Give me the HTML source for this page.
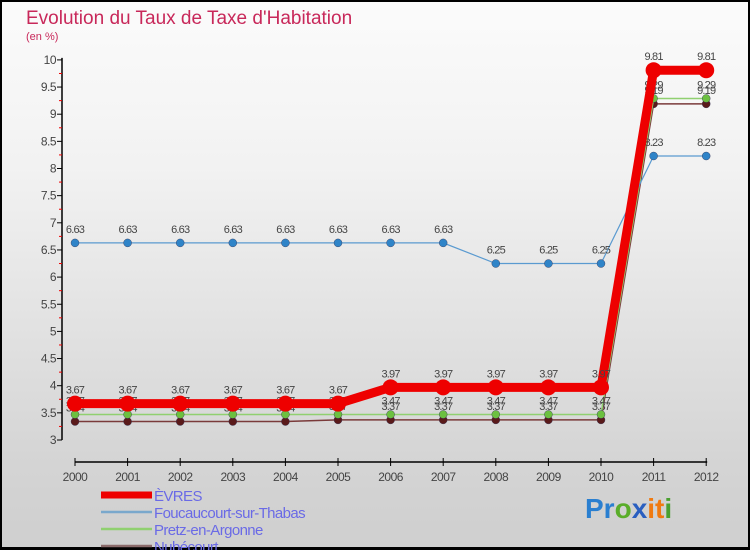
<!DOCTYPE html>
<html><head><meta charset="utf-8"><style>
html,body{margin:0;padding:0}
body{width:750px;height:550px;overflow:hidden;font-family:"Liberation Sans","DejaVu Sans",sans-serif}
#frame{position:absolute;left:0;top:0;width:746px;height:546px;border:2px solid #000;border-bottom-width:3px;height:545px;background:linear-gradient(#fbfbfb,#f2f2f2 30%,#d4d4d4 85%,#cfcfcf)}
</style></head><body>
<div id="frame">
<svg id="chart" width="750" height="550" style="position:absolute;left:-2px;top:-2px">
<text x="26" y="24" font-size="19" fill="#c8285a">Evolution du Taux de Taxe d'Habitation</text>
<text x="26" y="40" font-size="11" fill="#c8285a">(en %)</text>
<g id="axes"></g><g id="series"></g><g id="legend"></g>
<text x="585" y="518" font-size="28" font-weight="bold"><tspan fill="#2a7fd0">Pr</tspan><tspan fill="#5aad2a">o</tspan><tspan fill="#2a5fc0">x</tspan><tspan fill="#f07a10">it</tspan><tspan fill="#4aa030">i</tspan></text>
</svg>
</div>
<script>
const years=["2000","2001","2002","2003","2004","2005","2006","2007","2008","2009","2010","2011","2012"];
const yTicks=[3,3.5,4,4.5,5,5.5,6,6.5,7,7.5,8,8.5,9,9.5,10];
const seriesNames=["ÈVRES","Foucaucourt-sur-Thabas","Pretz-en-Argonne","Nubécourt"];
const evres=[3.67,3.67,3.67,3.67,3.67,3.67,3.97,3.97,3.97,3.97,3.97,9.81,9.81];
const foucaucourt=[6.63,6.63,6.63,6.63,6.63,6.63,6.63,6.63,6.25,6.25,6.25,8.23,8.23];
const pretz=[3.47,3.47,3.47,3.47,3.47,3.47,3.47,3.47,3.47,3.47,3.47,9.29,9.29];
const nubecourt=[3.34,3.34,3.34,3.34,3.34,3.37,3.37,3.37,3.37,3.37,3.37,9.19,9.19];
const NS="http://www.w3.org/2000/svg";
function mk(t,a,p){const e=document.createElementNS(NS,t);for(const k in a)e.setAttribute(k,a[k]);p.appendChild(e);return e;}
const X=i=>75+i*52.6, Y=v=>440-(v-3)*54.3;
const ax=document.getElementById('axes');
let l=mk('line',{x1:62,y1:Y(10)-2,x2:62,y2:Y(3),stroke:'#000','stroke-width':1.5},ax);


l=mk('line',{x1:X(0),y1:462,x2:X(12)+1,y2:462,stroke:'#000','stroke-width':1.5},ax);


yTicks.forEach((v,i)=>{
 mk('line',{x1:57,y1:Y(v),x2:62,y2:Y(v),stroke:'#000'},ax);
 if(i<yTicks.length-1) mk('line',{x1:59,y1:Y(v+0.25),x2:62,y2:Y(v+0.25),stroke:'#e00'},ax);
 const t=mk('text',{x:56,y:Y(v)+4,'font-size':12,fill:'#444','text-anchor':'end','letter-spacing':'-0.5'},ax);
 t.textContent=String(v);
 
 
});
years.forEach((y,i)=>{
 mk('line',{x1:X(i),y1:458,x2:X(i),y2:466,stroke:'#000'},ax);
 const t=mk('text',{x:X(i),y:481,'font-size':12,fill:'#444','text-anchor':'middle','letter-spacing':'-0.5'},ax);
 t.textContent=y;
 
 
});
const sg=document.getElementById('series');
const defs=[[nubecourt,'#7a3a3a','#5a1a1a',1.5,4,'nubecourt'],[pretz,'#90d070','#6cc040',1.5,4,'pretz-en-argonne'],[foucaucourt,'#5a9ad0','#2f84c8',1.2,4,'foucaucourt-sur-thabas'],[evres,'#ee0000','#ee0000',9,8,'evres']];
defs.forEach(([d,lc,pc,w,r,n])=>{
 const g=mk('g',{},sg);
 
 
 const p=mk('polyline',{points:d.map((v,i)=>X(i)+','+Y(v)).join(' '),fill:'none',stroke:lc,'stroke-width':w},g);
 
 
 d.forEach((v,i)=>{
  const c=mk('circle',{cx:X(i),cy:Y(v),r:r,fill:pc,stroke:r<5?'#335':'none','stroke-width':0.4},g);
  
  
  const t=mk('text',{x:X(i),y:Y(v)-10,'font-size':11,fill:'#444','text-anchor':'middle','letter-spacing':'-0.8'},g);
  t.textContent=v.toFixed(2).replace(/0$/,'');
  
  
 });
});
const lg=document.getElementById('legend');
const lcol=['#ee0000','#7aa8cc','#90d070','#8a6a6a'],lw=[7,2.5,2.5,2.5];
seriesNames.forEach((n,i)=>{
 const y=495+i*17;
 const ln=mk('line',{x1:101,y1:y,x2:152,y2:y,stroke:lcol[i],'stroke-width':lw[i]},lg);
 
 
 const t=mk('text',{x:154,y:y+6,'font-size':15,fill:'#6a6ae6','letter-spacing':'-0.6'},lg);
 t.textContent=n;
 
 
});
</script>
</body></html>
